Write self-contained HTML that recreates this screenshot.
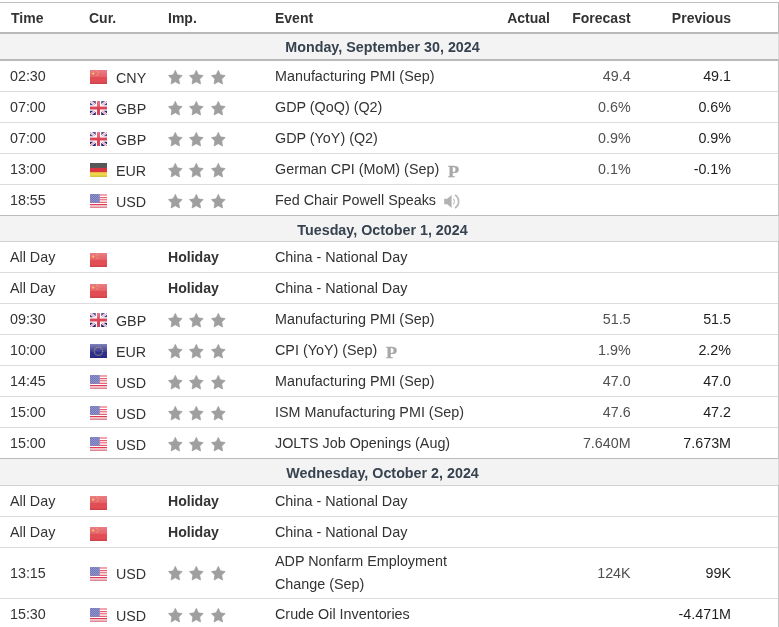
<!DOCTYPE html>
<html lang="en"><head><meta charset="utf-8"><title>Economic Calendar</title>
<style>
html,body{margin:0;padding:0;background:#fff}
body{width:779px;height:627px;overflow:hidden;position:relative;font-family:"Liberation Sans",Arial,sans-serif;font-size:14.3px;color:#333}
#cal{will-change:transform;position:absolute;left:0;top:0;width:779px;height:627px;overflow:hidden}
.ln{position:absolute;left:0;width:779px}
.vl{position:absolute;left:778px;width:1px;z-index:3}
.row{position:absolute;left:0;width:779px;white-space:nowrap}
.day{background:#f3f3f3;font-weight:bold;color:#36424f}
.vd{position:absolute;left:778px;top:0;width:1px;height:100%;background:#dadada;z-index:4}
.dt{position:absolute;left:182.5px;width:400px;text-align:center}
.c{position:absolute;top:0;height:100%}
.hd{font-weight:bold;color:#333;font-size:14px}
.time{left:10px}
.flg{left:90px}
.cur{left:116px;top:2px}
.imp{left:168px}
.evt{left:275px;font-size:14.35px}
.act{right:229px;text-align:right}
.fore{right:148.4px;text-align:right;color:#505050}
.prev{right:48px;text-align:right;color:#1e1e1e}
.fl{position:absolute;left:0;top:50%;margin-top:-6px;display:block}
.stars{position:absolute;left:0;top:50%;margin-top:-5.8px;display:block;width:60px;height:15px}
.st{position:absolute;top:0}
.st:nth-child(1){left:0}.st:nth-child(2){left:21.3px}.st:nth-child(3){left:42.8px}
.hol{font-weight:bold;color:#333;font-size:14.1px}
.pic{font-family:"Liberation Serif","Times New Roman",serif;font-weight:bold;font-size:16.5px;color:#a8a8a8;margin-left:8.5px;position:relative;top:2.5px;display:inline-block;line-height:1;transform:scaleX(1.1);transform-origin:0 50%;-webkit-text-stroke:.3px #a8a8a8}
.spk{display:inline-block;vertical-align:middle;margin-left:7.6px;position:relative;top:0.3px}
.ev2 .c{display:flex;align-items:center;line-height:23px}
.ev2 .cur{top:1px}.ev2 .stars{margin-top:-6.8px}
</style></head><body>
<div id="cal">
<svg width="0" height="0" style="position:absolute"><defs>
<linearGradient id="gl" x1="0" y1="0" x2="0" y2="1"><stop offset="0" stop-color="#fff" stop-opacity=".28"/><stop offset="1" stop-color="#fff" stop-opacity=".12"/></linearGradient>
<linearGradient id="gl2" x1="0" y1="0" x2="0" y2="1"><stop offset="0" stop-color="#fff" stop-opacity=".40"/><stop offset="1" stop-color="#fff" stop-opacity=".05"/></linearGradient>
<pattern id="dots" width="2" height="2" patternUnits="userSpaceOnUse"><rect width="1" height="1" fill="#fff" opacity=".22"/><rect x="1" y="1" width="1" height="1" fill="#fff" opacity=".22"/></pattern>
</defs></svg>
<div class="ln" style="top:2px;height:1px;background:#bdbdbd"></div>
<div class="vl" style="top:3px;height:624px;background:#c3c3c3"></div>
<div class="vl" style="top:3px;height:29px;background:#b9b9b9"></div>
<div class="row hd" style="top:4px;height:29px;line-height:29px">
<span class="c time" style="left:11px">Time</span><span class="c" style="left:89px">Cur.</span><span class="c" style="left:168px">Imp.</span><span class="c evt" style="font-size:14px">Event</span><span class="c act" style="color:#333">Actual</span><span class="c fore" style="color:#333">Forecast</span><span class="c prev" style="color:#333">Previous</span>
</div>
<div class="ln" style="top:32px;height:2px;background:#b9b9b9"></div>
<div class="row day" style="top:34px;height:25px;line-height:25px"><span class="dt" style="top:1px">Monday, September 30, 2024</span><i class="vd"></i></div>
<div class="ln" style="top:59px;height:2px;background:#b9b9b9"></div>
<div class="row" style="top:61px;height:30px;line-height:30px"><span class="c time">02:30</span><span class="c flg"><svg class="fl" width="17" height="14" viewBox="0 0 17 14"><rect width="17" height="14" fill="#e24c54"/>
<rect width="17" height="7" fill="url(#gl)"/>
<circle cx="3.2" cy="3.6" r="1.15" fill="#f5d25c" opacity=".9"/>
<path d="M6.3 1.2l.9.3M7.6 2.4l.9.2M6.6 5.3l1.6-1" stroke="#f3c95a" stroke-width=".8" fill="none" opacity=".8"/>
<rect y="12.6" width="17" height="1.4" fill="#c8424a" opacity=".8"/></svg></span><span class="c cur">CNY</span><span class="c imp"><span class="stars"><svg class="st" width="15" height="16" viewBox="0 0 15 16"><path d="M7.30 0.40L9.40 4.87L14.10 5.59L10.70 9.07L11.50 13.98L7.30 11.66L3.10 13.98L3.90 9.07L0.50 5.59L5.20 4.87z" fill="#9f9f9f" stroke="#9f9f9f" stroke-width=".8" stroke-linejoin="round"/></svg><svg class="st" width="15" height="16" viewBox="0 0 15 16"><path d="M7.30 0.40L9.40 4.87L14.10 5.59L10.70 9.07L11.50 13.98L7.30 11.66L3.10 13.98L3.90 9.07L0.50 5.59L5.20 4.87z" fill="#9f9f9f" stroke="#9f9f9f" stroke-width=".8" stroke-linejoin="round"/></svg><svg class="st" width="15" height="16" viewBox="0 0 15 16"><path d="M7.30 0.40L9.40 4.87L14.10 5.59L10.70 9.07L11.50 13.98L7.30 11.66L3.10 13.98L3.90 9.07L0.50 5.59L5.20 4.87z" fill="#9f9f9f" stroke="#9f9f9f" stroke-width=".8" stroke-linejoin="round"/></svg></span></span><span class="c evt">Manufacturing PMI (Sep)</span><span class="c act"></span><span class="c fore">49.4</span><span class="c prev">49.1</span></div>
<div class="ln" style="top:91px;height:1px;background:#dcdcdc"></div>
<div class="row" style="top:92px;height:30px;line-height:30px"><span class="c time">07:00</span><span class="c flg"><svg class="fl" width="17" height="14" viewBox="0 0 17 14"><rect width="17" height="14" fill="#24267a"/>
<path d="M0 0L17 14M17 0L0 14" stroke="#fff" stroke-width="2.4"/>
<path d="M0 0L17 14M17 0L0 14" stroke="#e77b8b" stroke-width="1"/>
<path d="M8.5 0V14M0 7H17" stroke="#fff" stroke-width="5.4"/>
<path d="M8.5 0V14M0 7H17" stroke="#dc4458" stroke-width="3"/>
<rect width="17" height="6" fill="url(#gl)"/></svg></span><span class="c cur">GBP</span><span class="c imp"><span class="stars"><svg class="st" width="15" height="16" viewBox="0 0 15 16"><path d="M7.30 0.40L9.40 4.87L14.10 5.59L10.70 9.07L11.50 13.98L7.30 11.66L3.10 13.98L3.90 9.07L0.50 5.59L5.20 4.87z" fill="#9f9f9f" stroke="#9f9f9f" stroke-width=".8" stroke-linejoin="round"/></svg><svg class="st" width="15" height="16" viewBox="0 0 15 16"><path d="M7.30 0.40L9.40 4.87L14.10 5.59L10.70 9.07L11.50 13.98L7.30 11.66L3.10 13.98L3.90 9.07L0.50 5.59L5.20 4.87z" fill="#9f9f9f" stroke="#9f9f9f" stroke-width=".8" stroke-linejoin="round"/></svg><svg class="st" width="15" height="16" viewBox="0 0 15 16"><path d="M7.30 0.40L9.40 4.87L14.10 5.59L10.70 9.07L11.50 13.98L7.30 11.66L3.10 13.98L3.90 9.07L0.50 5.59L5.20 4.87z" fill="#9f9f9f" stroke="#9f9f9f" stroke-width=".8" stroke-linejoin="round"/></svg></span></span><span class="c evt">GDP (QoQ) (Q2)</span><span class="c act"></span><span class="c fore">0.6%</span><span class="c prev">0.6%</span></div>
<div class="ln" style="top:122px;height:1px;background:#dcdcdc"></div>
<div class="row" style="top:123px;height:30px;line-height:30px"><span class="c time">07:00</span><span class="c flg"><svg class="fl" width="17" height="14" viewBox="0 0 17 14"><rect width="17" height="14" fill="#24267a"/>
<path d="M0 0L17 14M17 0L0 14" stroke="#fff" stroke-width="2.4"/>
<path d="M0 0L17 14M17 0L0 14" stroke="#e77b8b" stroke-width="1"/>
<path d="M8.5 0V14M0 7H17" stroke="#fff" stroke-width="5.4"/>
<path d="M8.5 0V14M0 7H17" stroke="#dc4458" stroke-width="3"/>
<rect width="17" height="6" fill="url(#gl)"/></svg></span><span class="c cur">GBP</span><span class="c imp"><span class="stars"><svg class="st" width="15" height="16" viewBox="0 0 15 16"><path d="M7.30 0.40L9.40 4.87L14.10 5.59L10.70 9.07L11.50 13.98L7.30 11.66L3.10 13.98L3.90 9.07L0.50 5.59L5.20 4.87z" fill="#9f9f9f" stroke="#9f9f9f" stroke-width=".8" stroke-linejoin="round"/></svg><svg class="st" width="15" height="16" viewBox="0 0 15 16"><path d="M7.30 0.40L9.40 4.87L14.10 5.59L10.70 9.07L11.50 13.98L7.30 11.66L3.10 13.98L3.90 9.07L0.50 5.59L5.20 4.87z" fill="#9f9f9f" stroke="#9f9f9f" stroke-width=".8" stroke-linejoin="round"/></svg><svg class="st" width="15" height="16" viewBox="0 0 15 16"><path d="M7.30 0.40L9.40 4.87L14.10 5.59L10.70 9.07L11.50 13.98L7.30 11.66L3.10 13.98L3.90 9.07L0.50 5.59L5.20 4.87z" fill="#9f9f9f" stroke="#9f9f9f" stroke-width=".8" stroke-linejoin="round"/></svg></span></span><span class="c evt">GDP (YoY) (Q2)</span><span class="c act"></span><span class="c fore">0.9%</span><span class="c prev">0.9%</span></div>
<div class="ln" style="top:153px;height:1px;background:#dcdcdc"></div>
<div class="row" style="top:154px;height:30px;line-height:30px"><span class="c time">13:00</span><span class="c flg"><svg class="fl" width="17" height="14" viewBox="0 0 17 14"><rect width="17" height="14" fill="#edd74a"/>
<rect width="17" height="9.2" fill="#dc3341"/>
<rect width="17" height="4.9" fill="#565858"/>
<rect y="12.6" width="17" height="1.4" fill="#d2bd3c" opacity=".8"/></svg></span><span class="c cur">EUR</span><span class="c imp"><span class="stars"><svg class="st" width="15" height="16" viewBox="0 0 15 16"><path d="M7.30 0.40L9.40 4.87L14.10 5.59L10.70 9.07L11.50 13.98L7.30 11.66L3.10 13.98L3.90 9.07L0.50 5.59L5.20 4.87z" fill="#9f9f9f" stroke="#9f9f9f" stroke-width=".8" stroke-linejoin="round"/></svg><svg class="st" width="15" height="16" viewBox="0 0 15 16"><path d="M7.30 0.40L9.40 4.87L14.10 5.59L10.70 9.07L11.50 13.98L7.30 11.66L3.10 13.98L3.90 9.07L0.50 5.59L5.20 4.87z" fill="#9f9f9f" stroke="#9f9f9f" stroke-width=".8" stroke-linejoin="round"/></svg><svg class="st" width="15" height="16" viewBox="0 0 15 16"><path d="M7.30 0.40L9.40 4.87L14.10 5.59L10.70 9.07L11.50 13.98L7.30 11.66L3.10 13.98L3.90 9.07L0.50 5.59L5.20 4.87z" fill="#9f9f9f" stroke="#9f9f9f" stroke-width=".8" stroke-linejoin="round"/></svg></span></span><span class="c evt">German CPI (MoM) (Sep)<span class="pic">P</span></span><span class="c act"></span><span class="c fore">0.1%</span><span class="c prev">-0.1%</span></div>
<div class="ln" style="top:184px;height:1px;background:#dcdcdc"></div>
<div class="row" style="top:185px;height:30px;line-height:30px"><span class="c time">18:55</span><span class="c flg"><svg class="fl" width="17" height="14" viewBox="0 0 17 14"><rect width="17" height="14" fill="#fff"/>
<rect y="0" width="17" height="2" fill="#f5a3ad"/>
<rect y="3" width="17" height="1.2" fill="#ea5c70"/>
<rect y="5.1" width="17" height="1.2" fill="#ee7182"/>
<rect y="6.3" width="17" height="1.4" fill="#f9c3ca"/>
<rect y="8" width="17" height="1" fill="#ea6173"/>
<rect y="10" width="17" height="1.3" fill="#e03a52"/>
<rect y="12.4" width="17" height="1.6" fill="#df8794"/>
<rect width="9.7" height="8.8" fill="#7276ba"/>
<rect width="9.7" height="8.8" fill="url(#dots)"/></svg></span><span class="c cur">USD</span><span class="c imp"><span class="stars"><svg class="st" width="15" height="16" viewBox="0 0 15 16"><path d="M7.30 0.40L9.40 4.87L14.10 5.59L10.70 9.07L11.50 13.98L7.30 11.66L3.10 13.98L3.90 9.07L0.50 5.59L5.20 4.87z" fill="#9f9f9f" stroke="#9f9f9f" stroke-width=".8" stroke-linejoin="round"/></svg><svg class="st" width="15" height="16" viewBox="0 0 15 16"><path d="M7.30 0.40L9.40 4.87L14.10 5.59L10.70 9.07L11.50 13.98L7.30 11.66L3.10 13.98L3.90 9.07L0.50 5.59L5.20 4.87z" fill="#9f9f9f" stroke="#9f9f9f" stroke-width=".8" stroke-linejoin="round"/></svg><svg class="st" width="15" height="16" viewBox="0 0 15 16"><path d="M7.30 0.40L9.40 4.87L14.10 5.59L10.70 9.07L11.50 13.98L7.30 11.66L3.10 13.98L3.90 9.07L0.50 5.59L5.20 4.87z" fill="#9f9f9f" stroke="#9f9f9f" stroke-width=".8" stroke-linejoin="round"/></svg></span></span><span class="c evt">Fed Chair Powell Speaks<svg class="spk" width="16" height="15" viewBox="0 0 16 15"><path d="M.2 4.7h3L7.6 1v13L3.2 10.3H.2z" fill="#b2b2b2"/><path d="M9.2 4.7a3.8 3.8 0 0 1 0 5.6" fill="none" stroke="#c4c4c4" stroke-width="1.2"/><path d="M11 1.1a7.5 7.5 0 0 1 0 12.8" fill="none" stroke="#bababa" stroke-width="1.8"/></svg></span><span class="c act"></span><span class="c fore"></span><span class="c prev"></span></div>
<div class="ln" style="top:215px;height:1px;background:#bcbcbc"></div>
<div class="row day" style="top:216px;height:25px;line-height:25px"><span class="dt" style="top:2px">Tuesday, October 1, 2024</span><i class="vd"></i></div>
<div class="ln" style="top:241px;height:1px;background:#d2d2d2"></div>
<div class="row" style="top:242px;height:30px;line-height:30px"><span class="c time">All Day</span><span class="c flg" style="top:2px"><svg class="fl" width="17" height="14" viewBox="0 0 17 14"><rect width="17" height="14" fill="#e24c54"/>
<rect width="17" height="7" fill="url(#gl)"/>
<circle cx="3.2" cy="3.6" r="1.15" fill="#f5d25c" opacity=".9"/>
<path d="M6.3 1.2l.9.3M7.6 2.4l.9.2M6.6 5.3l1.6-1" stroke="#f3c95a" stroke-width=".8" fill="none" opacity=".8"/>
<rect y="12.6" width="17" height="1.4" fill="#c8424a" opacity=".8"/></svg></span><span class="c cur"></span><span class="c imp"><b class="hol">Holiday</b></span><span class="c evt">China - National Day</span><span class="c act"></span><span class="c fore"></span><span class="c prev"></span></div>
<div class="ln" style="top:272px;height:1px;background:#dcdcdc"></div>
<div class="row" style="top:273px;height:30px;line-height:30px"><span class="c time">All Day</span><span class="c flg" style="top:2px"><svg class="fl" width="17" height="14" viewBox="0 0 17 14"><rect width="17" height="14" fill="#e24c54"/>
<rect width="17" height="7" fill="url(#gl)"/>
<circle cx="3.2" cy="3.6" r="1.15" fill="#f5d25c" opacity=".9"/>
<path d="M6.3 1.2l.9.3M7.6 2.4l.9.2M6.6 5.3l1.6-1" stroke="#f3c95a" stroke-width=".8" fill="none" opacity=".8"/>
<rect y="12.6" width="17" height="1.4" fill="#c8424a" opacity=".8"/></svg></span><span class="c cur"></span><span class="c imp"><b class="hol">Holiday</b></span><span class="c evt">China - National Day</span><span class="c act"></span><span class="c fore"></span><span class="c prev"></span></div>
<div class="ln" style="top:303px;height:1px;background:#dcdcdc"></div>
<div class="row" style="top:304px;height:30px;line-height:30px"><span class="c time">09:30</span><span class="c flg"><svg class="fl" width="17" height="14" viewBox="0 0 17 14"><rect width="17" height="14" fill="#24267a"/>
<path d="M0 0L17 14M17 0L0 14" stroke="#fff" stroke-width="2.4"/>
<path d="M0 0L17 14M17 0L0 14" stroke="#e77b8b" stroke-width="1"/>
<path d="M8.5 0V14M0 7H17" stroke="#fff" stroke-width="5.4"/>
<path d="M8.5 0V14M0 7H17" stroke="#dc4458" stroke-width="3"/>
<rect width="17" height="6" fill="url(#gl)"/></svg></span><span class="c cur">GBP</span><span class="c imp"><span class="stars"><svg class="st" width="15" height="16" viewBox="0 0 15 16"><path d="M7.30 0.40L9.40 4.87L14.10 5.59L10.70 9.07L11.50 13.98L7.30 11.66L3.10 13.98L3.90 9.07L0.50 5.59L5.20 4.87z" fill="#9f9f9f" stroke="#9f9f9f" stroke-width=".8" stroke-linejoin="round"/></svg><svg class="st" width="15" height="16" viewBox="0 0 15 16"><path d="M7.30 0.40L9.40 4.87L14.10 5.59L10.70 9.07L11.50 13.98L7.30 11.66L3.10 13.98L3.90 9.07L0.50 5.59L5.20 4.87z" fill="#9f9f9f" stroke="#9f9f9f" stroke-width=".8" stroke-linejoin="round"/></svg><svg class="st" width="15" height="16" viewBox="0 0 15 16"><path d="M7.30 0.40L9.40 4.87L14.10 5.59L10.70 9.07L11.50 13.98L7.30 11.66L3.10 13.98L3.90 9.07L0.50 5.59L5.20 4.87z" fill="#9f9f9f" stroke="#9f9f9f" stroke-width=".8" stroke-linejoin="round"/></svg></span></span><span class="c evt">Manufacturing PMI (Sep)</span><span class="c act"></span><span class="c fore">51.5</span><span class="c prev">51.5</span></div>
<div class="ln" style="top:334px;height:1px;background:#dcdcdc"></div>
<div class="row" style="top:335px;height:30px;line-height:30px"><span class="c time">10:00</span><span class="c flg"><svg class="fl" width="17" height="14" viewBox="0 0 17 14"><rect width="17" height="14" fill="#2d2f8d"/>
<rect width="17" height="8" fill="url(#gl2)"/>
<circle cx="8.5" cy="7.2" r="4.2" fill="none" stroke="#ad9c6c" stroke-width="1.1" stroke-dasharray="1.3 .8" opacity=".9"/>
<rect y="12.8" width="17" height="1.2" fill="#23257a" opacity=".8"/></svg></span><span class="c cur">EUR</span><span class="c imp"><span class="stars"><svg class="st" width="15" height="16" viewBox="0 0 15 16"><path d="M7.30 0.40L9.40 4.87L14.10 5.59L10.70 9.07L11.50 13.98L7.30 11.66L3.10 13.98L3.90 9.07L0.50 5.59L5.20 4.87z" fill="#9f9f9f" stroke="#9f9f9f" stroke-width=".8" stroke-linejoin="round"/></svg><svg class="st" width="15" height="16" viewBox="0 0 15 16"><path d="M7.30 0.40L9.40 4.87L14.10 5.59L10.70 9.07L11.50 13.98L7.30 11.66L3.10 13.98L3.90 9.07L0.50 5.59L5.20 4.87z" fill="#9f9f9f" stroke="#9f9f9f" stroke-width=".8" stroke-linejoin="round"/></svg><svg class="st" width="15" height="16" viewBox="0 0 15 16"><path d="M7.30 0.40L9.40 4.87L14.10 5.59L10.70 9.07L11.50 13.98L7.30 11.66L3.10 13.98L3.90 9.07L0.50 5.59L5.20 4.87z" fill="#9f9f9f" stroke="#9f9f9f" stroke-width=".8" stroke-linejoin="round"/></svg></span></span><span class="c evt">CPI (YoY) (Sep)<span class="pic">P</span></span><span class="c act"></span><span class="c fore">1.9%</span><span class="c prev">2.2%</span></div>
<div class="ln" style="top:365px;height:1px;background:#dcdcdc"></div>
<div class="row" style="top:366px;height:30px;line-height:30px"><span class="c time">14:45</span><span class="c flg"><svg class="fl" width="17" height="14" viewBox="0 0 17 14"><rect width="17" height="14" fill="#fff"/>
<rect y="0" width="17" height="2" fill="#f5a3ad"/>
<rect y="3" width="17" height="1.2" fill="#ea5c70"/>
<rect y="5.1" width="17" height="1.2" fill="#ee7182"/>
<rect y="6.3" width="17" height="1.4" fill="#f9c3ca"/>
<rect y="8" width="17" height="1" fill="#ea6173"/>
<rect y="10" width="17" height="1.3" fill="#e03a52"/>
<rect y="12.4" width="17" height="1.6" fill="#df8794"/>
<rect width="9.7" height="8.8" fill="#7276ba"/>
<rect width="9.7" height="8.8" fill="url(#dots)"/></svg></span><span class="c cur">USD</span><span class="c imp"><span class="stars"><svg class="st" width="15" height="16" viewBox="0 0 15 16"><path d="M7.30 0.40L9.40 4.87L14.10 5.59L10.70 9.07L11.50 13.98L7.30 11.66L3.10 13.98L3.90 9.07L0.50 5.59L5.20 4.87z" fill="#9f9f9f" stroke="#9f9f9f" stroke-width=".8" stroke-linejoin="round"/></svg><svg class="st" width="15" height="16" viewBox="0 0 15 16"><path d="M7.30 0.40L9.40 4.87L14.10 5.59L10.70 9.07L11.50 13.98L7.30 11.66L3.10 13.98L3.90 9.07L0.50 5.59L5.20 4.87z" fill="#9f9f9f" stroke="#9f9f9f" stroke-width=".8" stroke-linejoin="round"/></svg><svg class="st" width="15" height="16" viewBox="0 0 15 16"><path d="M7.30 0.40L9.40 4.87L14.10 5.59L10.70 9.07L11.50 13.98L7.30 11.66L3.10 13.98L3.90 9.07L0.50 5.59L5.20 4.87z" fill="#9f9f9f" stroke="#9f9f9f" stroke-width=".8" stroke-linejoin="round"/></svg></span></span><span class="c evt">Manufacturing PMI (Sep)</span><span class="c act"></span><span class="c fore">47.0</span><span class="c prev">47.0</span></div>
<div class="ln" style="top:396px;height:1px;background:#dcdcdc"></div>
<div class="row" style="top:397px;height:30px;line-height:30px"><span class="c time">15:00</span><span class="c flg"><svg class="fl" width="17" height="14" viewBox="0 0 17 14"><rect width="17" height="14" fill="#fff"/>
<rect y="0" width="17" height="2" fill="#f5a3ad"/>
<rect y="3" width="17" height="1.2" fill="#ea5c70"/>
<rect y="5.1" width="17" height="1.2" fill="#ee7182"/>
<rect y="6.3" width="17" height="1.4" fill="#f9c3ca"/>
<rect y="8" width="17" height="1" fill="#ea6173"/>
<rect y="10" width="17" height="1.3" fill="#e03a52"/>
<rect y="12.4" width="17" height="1.6" fill="#df8794"/>
<rect width="9.7" height="8.8" fill="#7276ba"/>
<rect width="9.7" height="8.8" fill="url(#dots)"/></svg></span><span class="c cur">USD</span><span class="c imp"><span class="stars"><svg class="st" width="15" height="16" viewBox="0 0 15 16"><path d="M7.30 0.40L9.40 4.87L14.10 5.59L10.70 9.07L11.50 13.98L7.30 11.66L3.10 13.98L3.90 9.07L0.50 5.59L5.20 4.87z" fill="#9f9f9f" stroke="#9f9f9f" stroke-width=".8" stroke-linejoin="round"/></svg><svg class="st" width="15" height="16" viewBox="0 0 15 16"><path d="M7.30 0.40L9.40 4.87L14.10 5.59L10.70 9.07L11.50 13.98L7.30 11.66L3.10 13.98L3.90 9.07L0.50 5.59L5.20 4.87z" fill="#9f9f9f" stroke="#9f9f9f" stroke-width=".8" stroke-linejoin="round"/></svg><svg class="st" width="15" height="16" viewBox="0 0 15 16"><path d="M7.30 0.40L9.40 4.87L14.10 5.59L10.70 9.07L11.50 13.98L7.30 11.66L3.10 13.98L3.90 9.07L0.50 5.59L5.20 4.87z" fill="#9f9f9f" stroke="#9f9f9f" stroke-width=".8" stroke-linejoin="round"/></svg></span></span><span class="c evt">ISM Manufacturing PMI (Sep)</span><span class="c act"></span><span class="c fore">47.6</span><span class="c prev">47.2</span></div>
<div class="ln" style="top:427px;height:1px;background:#dcdcdc"></div>
<div class="row" style="top:428px;height:30px;line-height:30px"><span class="c time">15:00</span><span class="c flg"><svg class="fl" width="17" height="14" viewBox="0 0 17 14"><rect width="17" height="14" fill="#fff"/>
<rect y="0" width="17" height="2" fill="#f5a3ad"/>
<rect y="3" width="17" height="1.2" fill="#ea5c70"/>
<rect y="5.1" width="17" height="1.2" fill="#ee7182"/>
<rect y="6.3" width="17" height="1.4" fill="#f9c3ca"/>
<rect y="8" width="17" height="1" fill="#ea6173"/>
<rect y="10" width="17" height="1.3" fill="#e03a52"/>
<rect y="12.4" width="17" height="1.6" fill="#df8794"/>
<rect width="9.7" height="8.8" fill="#7276ba"/>
<rect width="9.7" height="8.8" fill="url(#dots)"/></svg></span><span class="c cur">USD</span><span class="c imp"><span class="stars"><svg class="st" width="15" height="16" viewBox="0 0 15 16"><path d="M7.30 0.40L9.40 4.87L14.10 5.59L10.70 9.07L11.50 13.98L7.30 11.66L3.10 13.98L3.90 9.07L0.50 5.59L5.20 4.87z" fill="#9f9f9f" stroke="#9f9f9f" stroke-width=".8" stroke-linejoin="round"/></svg><svg class="st" width="15" height="16" viewBox="0 0 15 16"><path d="M7.30 0.40L9.40 4.87L14.10 5.59L10.70 9.07L11.50 13.98L7.30 11.66L3.10 13.98L3.90 9.07L0.50 5.59L5.20 4.87z" fill="#9f9f9f" stroke="#9f9f9f" stroke-width=".8" stroke-linejoin="round"/></svg><svg class="st" width="15" height="16" viewBox="0 0 15 16"><path d="M7.30 0.40L9.40 4.87L14.10 5.59L10.70 9.07L11.50 13.98L7.30 11.66L3.10 13.98L3.90 9.07L0.50 5.59L5.20 4.87z" fill="#9f9f9f" stroke="#9f9f9f" stroke-width=".8" stroke-linejoin="round"/></svg></span></span><span class="c evt">JOLTS Job Openings (Aug)</span><span class="c act"></span><span class="c fore">7.640M</span><span class="c prev">7.673M</span></div>
<div class="ln" style="top:458px;height:1px;background:#bcbcbc"></div>
<div class="row day" style="top:459px;height:26px;line-height:26px"><span class="dt" style="top:1px">Wednesday, October 2, 2024</span><i class="vd"></i></div>
<div class="ln" style="top:485px;height:1px;background:#d2d2d2"></div>
<div class="row" style="top:486px;height:30px;line-height:30px"><span class="c time">All Day</span><span class="c flg" style="top:1px"><svg class="fl" width="17" height="14" viewBox="0 0 17 14"><rect width="17" height="14" fill="#e24c54"/>
<rect width="17" height="7" fill="url(#gl)"/>
<circle cx="3.2" cy="3.6" r="1.15" fill="#f5d25c" opacity=".9"/>
<path d="M6.3 1.2l.9.3M7.6 2.4l.9.2M6.6 5.3l1.6-1" stroke="#f3c95a" stroke-width=".8" fill="none" opacity=".8"/>
<rect y="12.6" width="17" height="1.4" fill="#c8424a" opacity=".8"/></svg></span><span class="c cur"></span><span class="c imp"><b class="hol">Holiday</b></span><span class="c evt">China - National Day</span><span class="c act"></span><span class="c fore"></span><span class="c prev"></span></div>
<div class="ln" style="top:516px;height:1px;background:#dcdcdc"></div>
<div class="row" style="top:517px;height:30px;line-height:30px"><span class="c time">All Day</span><span class="c flg" style="top:1px"><svg class="fl" width="17" height="14" viewBox="0 0 17 14"><rect width="17" height="14" fill="#e24c54"/>
<rect width="17" height="7" fill="url(#gl)"/>
<circle cx="3.2" cy="3.6" r="1.15" fill="#f5d25c" opacity=".9"/>
<path d="M6.3 1.2l.9.3M7.6 2.4l.9.2M6.6 5.3l1.6-1" stroke="#f3c95a" stroke-width=".8" fill="none" opacity=".8"/>
<rect y="12.6" width="17" height="1.4" fill="#c8424a" opacity=".8"/></svg></span><span class="c cur"></span><span class="c imp"><b class="hol">Holiday</b></span><span class="c evt">China - National Day</span><span class="c act"></span><span class="c fore"></span><span class="c prev"></span></div>
<div class="ln" style="top:547px;height:1px;background:#dcdcdc"></div>
<div class="row ev2" style="top:548px;height:50px"><span class="c time">13:15</span><span class="c flg"><svg class="fl" width="17" height="14" viewBox="0 0 17 14"><rect width="17" height="14" fill="#fff"/>
<rect y="0" width="17" height="2" fill="#f5a3ad"/>
<rect y="3" width="17" height="1.2" fill="#ea5c70"/>
<rect y="5.1" width="17" height="1.2" fill="#ee7182"/>
<rect y="6.3" width="17" height="1.4" fill="#f9c3ca"/>
<rect y="8" width="17" height="1" fill="#ea6173"/>
<rect y="10" width="17" height="1.3" fill="#e03a52"/>
<rect y="12.4" width="17" height="1.6" fill="#df8794"/>
<rect width="9.7" height="8.8" fill="#7276ba"/>
<rect width="9.7" height="8.8" fill="url(#dots)"/></svg></span><span class="c cur">USD</span><span class="c imp"><span class="stars"><svg class="st" width="15" height="16" viewBox="0 0 15 16"><path d="M7.30 0.40L9.40 4.87L14.10 5.59L10.70 9.07L11.50 13.98L7.30 11.66L3.10 13.98L3.90 9.07L0.50 5.59L5.20 4.87z" fill="#9f9f9f" stroke="#9f9f9f" stroke-width=".8" stroke-linejoin="round"/></svg><svg class="st" width="15" height="16" viewBox="0 0 15 16"><path d="M7.30 0.40L9.40 4.87L14.10 5.59L10.70 9.07L11.50 13.98L7.30 11.66L3.10 13.98L3.90 9.07L0.50 5.59L5.20 4.87z" fill="#9f9f9f" stroke="#9f9f9f" stroke-width=".8" stroke-linejoin="round"/></svg><svg class="st" width="15" height="16" viewBox="0 0 15 16"><path d="M7.30 0.40L9.40 4.87L14.10 5.59L10.70 9.07L11.50 13.98L7.30 11.66L3.10 13.98L3.90 9.07L0.50 5.59L5.20 4.87z" fill="#9f9f9f" stroke="#9f9f9f" stroke-width=".8" stroke-linejoin="round"/></svg></span></span><span class="c evt">ADP Nonfarm Employment<br>Change (Sep)</span><span class="c act"></span><span class="c fore">124K</span><span class="c prev">99K</span></div>
<div class="ln" style="top:598px;height:1px;background:#dcdcdc"></div>
<div class="row" style="top:599px;height:30px;line-height:30px"><span class="c time">15:30</span><span class="c flg"><svg class="fl" width="17" height="14" viewBox="0 0 17 14"><rect width="17" height="14" fill="#fff"/>
<rect y="0" width="17" height="2" fill="#f5a3ad"/>
<rect y="3" width="17" height="1.2" fill="#ea5c70"/>
<rect y="5.1" width="17" height="1.2" fill="#ee7182"/>
<rect y="6.3" width="17" height="1.4" fill="#f9c3ca"/>
<rect y="8" width="17" height="1" fill="#ea6173"/>
<rect y="10" width="17" height="1.3" fill="#e03a52"/>
<rect y="12.4" width="17" height="1.6" fill="#df8794"/>
<rect width="9.7" height="8.8" fill="#7276ba"/>
<rect width="9.7" height="8.8" fill="url(#dots)"/></svg></span><span class="c cur">USD</span><span class="c imp"><span class="stars"><svg class="st" width="15" height="16" viewBox="0 0 15 16"><path d="M7.30 0.40L9.40 4.87L14.10 5.59L10.70 9.07L11.50 13.98L7.30 11.66L3.10 13.98L3.90 9.07L0.50 5.59L5.20 4.87z" fill="#9f9f9f" stroke="#9f9f9f" stroke-width=".8" stroke-linejoin="round"/></svg><svg class="st" width="15" height="16" viewBox="0 0 15 16"><path d="M7.30 0.40L9.40 4.87L14.10 5.59L10.70 9.07L11.50 13.98L7.30 11.66L3.10 13.98L3.90 9.07L0.50 5.59L5.20 4.87z" fill="#9f9f9f" stroke="#9f9f9f" stroke-width=".8" stroke-linejoin="round"/></svg><svg class="st" width="15" height="16" viewBox="0 0 15 16"><path d="M7.30 0.40L9.40 4.87L14.10 5.59L10.70 9.07L11.50 13.98L7.30 11.66L3.10 13.98L3.90 9.07L0.50 5.59L5.20 4.87z" fill="#9f9f9f" stroke="#9f9f9f" stroke-width=".8" stroke-linejoin="round"/></svg></span></span><span class="c evt">Crude Oil Inventories</span><span class="c act"></span><span class="c fore"></span><span class="c prev">-4.471M</span></div>
<div class="ln" style="top:629px;height:1px;background:#dcdcdc"></div>
</div>
</body></html>
